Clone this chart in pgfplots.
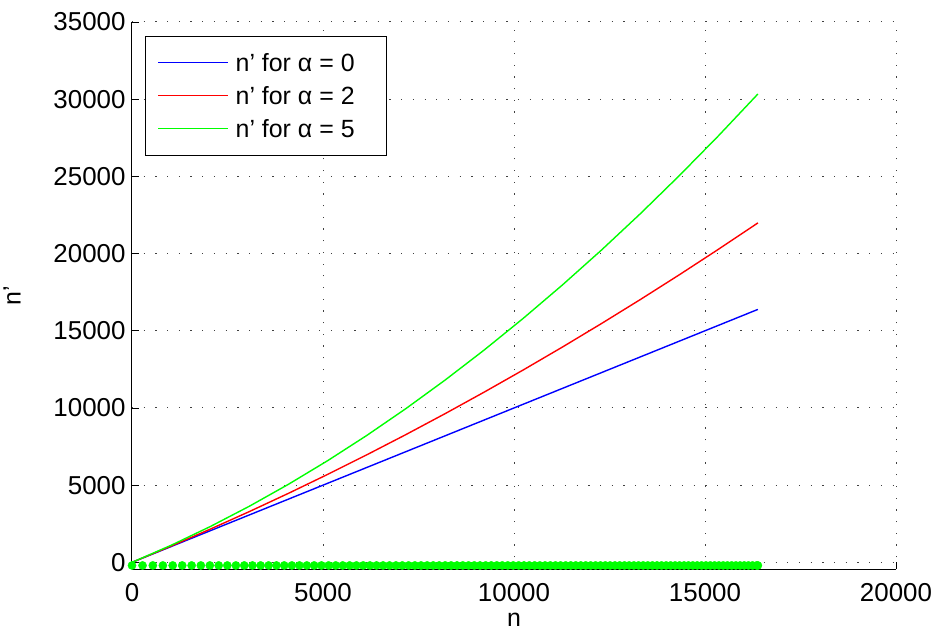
\documentclass[border=0pt]{standalone}
\usepackage{pgfplots}
\pgfplotsset{compat=1.18}
\usepackage{fontspec}
\setmainfont{Liberation Sans}

% growth of n' with n for three values of alpha
\pgfplotstableread{
n      a0     a2     a5
0      0      0      0
1024   1024   1054   1106
2048   2048   2150   2318
3072   3072   3289   3635
4096   4096   4471   5057
5120   5120   5696   6584
6144   6144   6963   8217
7168   7168   8273   9955
8192   8192   9626   11799
9216   9216   11022  13747
10240  10240  12460  15801
11264  11264  13941  17960
12288  12288  15465  20224
13312  13312  17031  22594
14336  14336  18640  25069
15360  15360  20292  27649
16384  16384  21986  30335
}\curves

% sample positions shown along the n axis
\pgfplotstableread{
x y
0 -200
276 -200
545 -200
808 -200
1065 -200
1315 -200
1561 -200
1802 -200
2037 -200
2269 -200
2496 -200
2719 -200
2939 -200
3154 -200
3367 -200
3576 -200
3782 -200
3985 -200
4185 -200
4383 -200
4577 -200
4770 -200
4960 -200
5147 -200
5332 -200
5516 -200
5697 -200
5875 -200
6052 -200
6228 -200
6401 -200
6572 -200
6742 -200
6910 -200
7077 -200
7241 -200
7405 -200
7567 -200
7727 -200
7886 -200
8043 -200
8199 -200
8354 -200
8508 -200
8660 -200
8811 -200
8961 -200
9110 -200
9258 -200
9405 -200
9550 -200
9694 -200
9838 -200
9980 -200
10122 -200
10262 -200
10401 -200
10540 -200
10677 -200
10814 -200
10950 -200
11085 -200
11219 -200
11352 -200
11485 -200
11616 -200
11747 -200
11877 -200
12006 -200
12135 -200
12263 -200
12390 -200
12516 -200
12642 -200
12767 -200
12891 -200
13015 -200
13138 -200
13261 -200
13382 -200
13503 -200
13624 -200
13744 -200
13863 -200
13982 -200
14100 -200
14218 -200
14335 -200
14451 -200
14567 -200
14682 -200
14797 -200
14911 -200
15025 -200
15139 -200
15251 -200
15364 -200
15476 -200
15587 -200
15698 -200
15808 -200
15918 -200
16027 -200
16136 -200
16245 -200
16353 -200
16384 -200
}\samples

\definecolor{mblue}{rgb}{0,0,1}
\definecolor{mred}{rgb}{1,0,0}
\definecolor{mgreen}{rgb}{0,1,0}

\newcommand{\tickfont}{\fontsize{26}{31}\selectfont}
\newcommand{\labelfont}{\fontsize{25}{30}\selectfont}

\begin{document}
\begin{tikzpicture}
\path[use as bounding box] (-132bp,-66bp) rectangle (803bp,569bp);
\begin{axis}[
  at={(0,0)}, anchor=south west,
  width=764bp, height=547bp, scale only axis,
  xmin=0, xmax=20000, ymin=-430, ymax=35000,
  xtick={0,5000,...,20000},
  ytick={0,5000,...,35000},
  scaled ticks=false,
  /pgf/number format/set thousands separator={},
  /pgf/number format/assume math mode=true,
  xticklabel={\tickfont\pgfmathprintnumber{\tick}},
  yticklabel={\tickfont\pgfmathprintnumber{\tick}},
  axis x line*=bottom, axis y line*=left,
  axis line style={black, line width=1bp},
  tick align=inside,
  major tick length=7bp,
  tick style={black, line width=0.8bp},
  grid=major,
  major grid style={black!75, line width=1bp, dash pattern=on 1.2bp off 10.5bp},
  font=\labelfont,
  xticklabel style={yshift=-11bp},
  yticklabel style={xshift=-3bp},
  xlabel={n}, ylabel={n’},
  xlabel style={yshift=-4bp},
  ylabel style={yshift=26bp},
  clip=false,
  legend cell align=left,
  legend style={
    at={(axis description cs:0,1)}, anchor=north west,
    xshift=13bp, yshift=-14bp,
    draw=black, line width=1bp,
    inner xsep=12bp, inner ysep=14.5bp,
    row sep=9.5bp,
    nodes={inner sep=2bp},
    font=\labelfont,
    /tikz/every odd column/.append style={column sep=5bp},
  },
  legend image code/.code={\draw[#1, line width=1.2bp] (0bp,0bp) -- (70bp,0bp);},
]
\addplot[mblue, line width=1.4bp] table[x=n, y=a0] {\curves};
\addlegendentry{n’ for α = 0\hspace*{18bp}}
\addplot[mred, line width=1.4bp] table[x=n, y=a2] {\curves};
\addlegendentry{n’ for α = 2\hspace*{18bp}}
\addplot[mgreen, line width=1.4bp] table[x=n, y=a5] {\curves};
\addlegendentry{n’ for α = 5\hspace*{18bp}}
\addplot[forget plot, only marks, mark=*, mark size=4.1bp, mgreen, mark options={draw=mgreen, fill=mgreen}] table[x=x, y=y] {\samples};
\end{axis}
\end{tikzpicture}
\end{document}
